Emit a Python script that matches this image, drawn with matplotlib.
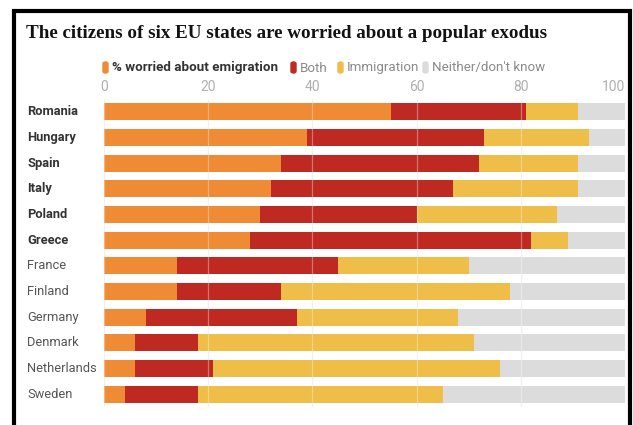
import matplotlib.pyplot as plt
import matplotlib.transforms as mtransforms
from matplotlib.lines import Line2D
from matplotlib.patches import FancyBboxPatch
import numpy as np

# Dados (% de respostas por país)
countries = ["Romania", "Hungary", "Spain", "Italy", "Poland", "Greece",
             "France", "Finland", "Germany", "Denmark", "Netherlands", "Sweden"]
emigration = [55, 39, 34, 32, 30, 28, 14, 14, 8, 6, 6, 4]
both = [26, 34, 38, 35, 30, 54, 31, 20, 29, 12, 15, 14]
immigration = [10, 20, 19, 24, 27, 7, 25, 44, 31, 53, 55, 47]
neither = [100 - a - b - c for a, b, c in zip(emigration, both, immigration)]
n_bold = 6  # os seis estados destacados

series_names = ["% worried about emigration", "Both", "Immigration", "Neither/don't know"]
colors = ["#EF8A35", "#BE2A22", "#EFBE48", "#DCDCDC"]
ticks = [0, 20, 40, 60, 80, 100]

plt.rcParams['font.family'] = ['Roboto', 'DejaVu Sans']

W, H = 633, 425
fig = plt.figure(figsize=(W / 100, H / 100), dpi=100)
fig.patch.set_facecolor("white")

def fx(px):
    return px / W

def fy(py):
    return 1 - py / H

ax = fig.add_axes([fx(104), fy(407), fx(625) - fx(104), fy(99) - fy(407)])
y = np.arange(len(countries))
left = np.zeros(len(countries))
for vals, col in zip([emigration, both, immigration, neither], colors):
    ax.barh(y, vals, left=left, height=0.66, color=col, zorder=2)
    left += np.array(vals)

ax.set_xlim(0, 100)
ax.set_ylim(len(countries) - 0.5, -0.5)
# grade: clara nos vãos e levemente visível sobre as barras
for t in ticks:
    ax.axvline(t, color="white", alpha=0.35, lw=0.9, zorder=3)
    ax.axvline(t, color="#ebebeb", lw=0.9, zorder=1)
for s in ax.spines.values():
    s.set_visible(False)
ax.set_yticks([])
ax.set_xticks(ticks)
ax.set_xticklabels([str(t) for t in ticks])
ax.tick_params(axis="x", top=True, labeltop=True, bottom=False, labelbottom=False,
               length=0, pad=3.5, labelsize=10, labelcolor="#b0b0b0")
ax.xaxis.get_ticklabels()[-1].set_horizontalalignment("right")

# Nomes dos países
tr = mtransforms.blended_transform_factory(fig.transFigure, ax.transData)
for i, name in enumerate(countries):
    bold = i < n_bold
    ax.text(fx(27), i, name, transform=tr, ha="left", va="center",
            fontsize=9.3, fontweight="bold" if bold else "normal",
            color="#333333" if bold else "#555555")

# Título
fig.text(fx(26), fy(34), "The citizens of six EU states are worried about a popular exodus",
         family=["Liberation Serif", "DejaVu Serif"], fontweight="bold",
         fontsize=13.7, color="#121212", ha="left", va="center")

# Legenda
leg_x = [103, 291, 338, 423]
for k, (xpx, name, col) in enumerate(zip(leg_x, series_names, colors)):
    fig.patches.append(FancyBboxPatch((fx(xpx), fy(73)), fx(5), fy(62) - fy(73),
                                      boxstyle="round,pad=0,rounding_size=0.004",
                                      transform=fig.transFigure, color=col))
    fig.text(fx(xpx + 9), fy(68), name, fontsize=9.6,
             fontweight="bold" if k == 0 else "normal",
             color="#333333" if k == 0 else "#8a8a8a", ha="left", va="center")

# Moldura
frame = dict(color="black", lw=3, solid_joinstyle="miter", transform=fig.transFigure)
fig.add_artist(Line2D([fx(13.5), fx(13.5), fx(630), fx(630)],
                      [0, fy(11), fy(11), 0], **frame))

fig.savefig("out.png", dpi=100)
